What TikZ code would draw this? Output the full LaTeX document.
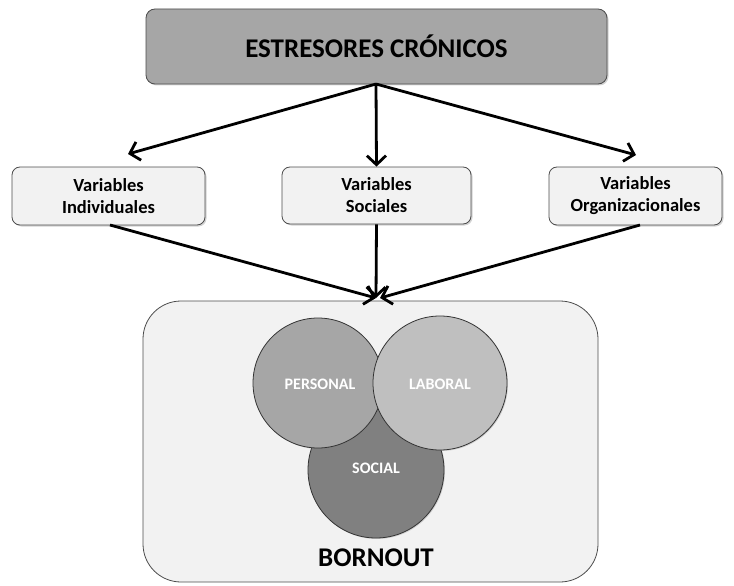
\documentclass[tikz,border=0pt]{standalone}
\usepackage{fontspec}
\setmainfont{Carlito}
\usetikzlibrary{arrows.meta,shadows}
\begin{document}
\begin{tikzpicture}[x=1pt,y=-1pt,
  topbox/.style={draw=black!70,fill=black!35,rounded corners=9pt,line width=0.8pt,drop shadow={shadow xshift=1.5pt,shadow yshift=-1.5pt,opacity=0.35}},
  varbox/.style={draw=black!70,fill=black!5,rounded corners=8pt,line width=0.8pt,drop shadow={shadow xshift=1.5pt,shadow yshift=-1.5pt,opacity=0.35},align=center,font=\fontsize{18.5}{22}\selectfont\bfseries},
  circ/.style={circle,draw=black!80,line width=0.8pt,drop shadow={shadow xshift=1pt,shadow yshift=-1pt,opacity=0.3}},
  ctext/.style={text=white,font=\fontsize{16}{18}\selectfont\bfseries},
  arr/.style={line width=2.8pt,-{Straight Barb[length=9pt,width=19pt,line width=2.8pt]}}
]
\useasboundingbox (0,0) rectangle (734,586);
% top
\node[topbox,minimum width=461pt,minimum height=75pt] (top) at (376.5,46.5) {\fontsize{27}{30}\selectfont\bfseries ESTRESORES CRÓNICOS};
% variables
\node[varbox,minimum width=193pt,minimum height=58pt] (ind) at (108.5,196) {Variables\\Individuales};
\node[varbox,minimum width=189pt,minimum height=57pt] (soc) at (376.5,195.5) {Variables\\Sociales};
\node[varbox,minimum width=173pt,minimum height=58pt] (org) at (635.5,196) {Variables\\Organizacionales};
% bottom
\node[draw=black!70,fill=black!5,rounded corners=38pt,line width=0.8pt,minimum width=455pt,minimum height=281pt] (bot) at (370.5,441.5) {};
\node[circ,fill=black!50,minimum size=136pt] (social) at (376,470) {};
\node[circ,fill=black!35,minimum size=130pt] (personal) at (318,383) {};
\node[circ,fill=black!25,minimum size=134pt] (laboral) at (440,383) {};
\node[ctext] (tsocial) at (376,468) {SOCIAL};
\node[ctext] (tpers) at (320,384) {PERSONAL};
\node[ctext] (tlab) at (440,384) {LABORAL};
\node[font=\fontsize{27}{30}\selectfont\bfseries] (burn) at (376,558) {BORNOUT};
% arrows
\coordinate (t1) at (376,84);
\coordinate (a1) at (128,154);
\coordinate (a3) at (636,155);
\coordinate (b) at (376,298);
\coordinate (b2) at (380,298);
\coordinate (s1) at (110,225);
\coordinate (s3) at (640,225);
\draw[arr] (t1) -- (a1);
\draw[arr] (t1) -- (soc.north);
\draw[arr] (t1) -- (a3);
\draw[arr] (s1) -- (b);
\draw[arr] (soc.south) -- (b);
\draw[arr] (s3) -- (b2);
\end{tikzpicture}
\end{document}
